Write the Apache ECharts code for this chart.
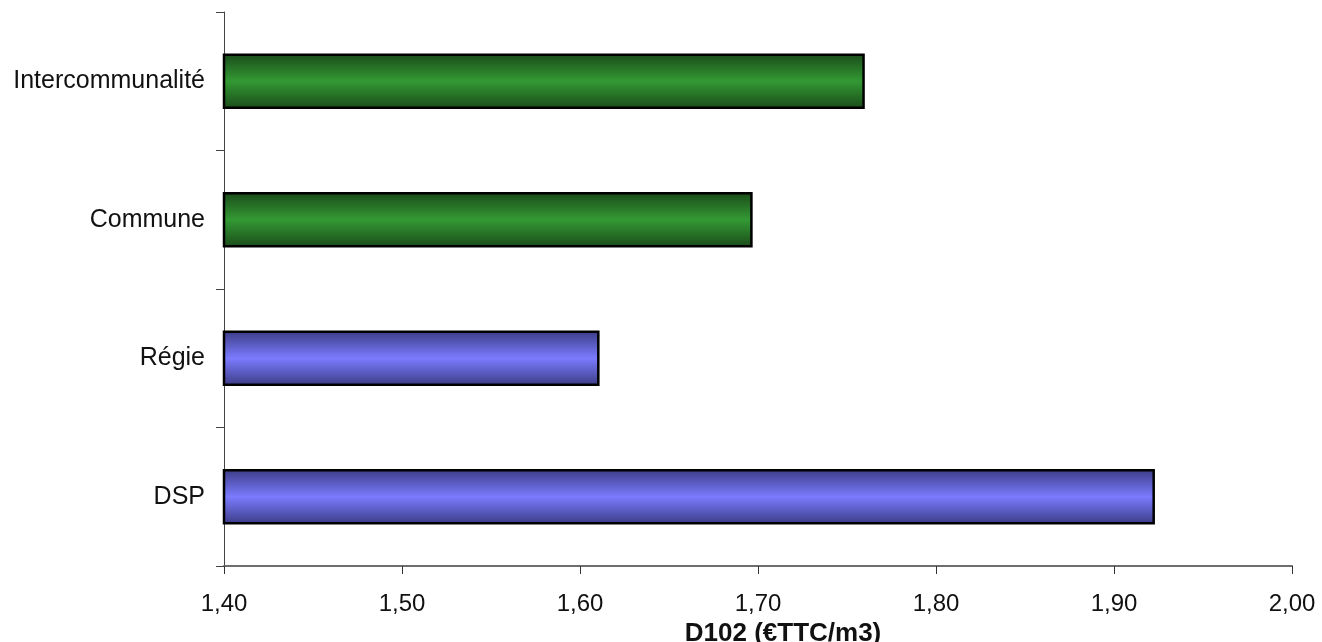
<!DOCTYPE html>
<html><head><meta charset="utf-8">
<script src="https://cdn.jsdelivr.net/npm/echarts@6/dist/echarts.min.js"></script>
<style>html,body{margin:0;padding:0;background:#fff;overflow:hidden}#c{width:1322px;height:642px}</style>
</head><body><div id="c"></div>
<script>
const categories = ['DSP', 'Régie', 'Commune', 'Intercommunalité'];
const values = [1.923, 1.611, 1.697, 1.760];
const groups = ['mode', 'mode', 'type', 'type'];
const xTicks = [1.40, 1.50, 1.60, 1.70, 1.80, 1.90, 2.00];

function grad(dark, mid) {
  return new echarts.graphic.LinearGradient(0, 0, 0, 1, [
    {offset: 0, color: dark}, {offset: 0.5, color: mid}, {offset: 1, color: dark}
  ]);
}
const palette = {
  mode: grad('#3b3b85', '#7b7bff'),
  type: grad('#1a4a1a', '#339933')
};

const chart = echarts.init(document.getElementById('c'));
chart.setOption({
  animation: false,
  grid: {left: 224, right: 30, top: 12, bottom: 76, containLabel: false, outerBoundsMode: 'none'},
  xAxis: {
    type: 'value', min: 1.40, max: 2.00, interval: 0.10,
    axisLine: {show: true, lineStyle: {color: '#6e6e6e', width: 2}},
    axisTick: {show: true, length: 8, lineStyle: {color: '#333', width: 1}},
    splitLine: {show: false},
    axisLabel: {margin: 26, fontFamily: 'Liberation Sans, Arial', fontSize: 24, color: '#111',
      formatter: v => v.toFixed(2).replace('.', ',')},
    name: 'D102 (€TTC/m3)', nameLocation: 'middle', nameGap: 48,
    nameTextStyle: {fontFamily: 'Liberation Sans, Arial', fontSize: 26, fontWeight: 'bold', color: '#111', padding: [0, 0, 0, 50]}
  },
  yAxis: {
    type: 'category', data: categories,
    axisLine: {show: true, lineStyle: {color: '#444', width: 1}},
    axisTick: {show: true, length: 8, lineStyle: {color: '#444'}},
    axisLabel: {margin: 19, fontFamily: 'Liberation Sans, Arial', fontSize: 25, color: '#111'}
  },
  series: [{
    type: 'bar', barWidth: '40%',
    data: values.map((v, i) => ({value: v, itemStyle: {color: palette[groups[i]], borderColor: '#000', borderWidth: 2.5}}))
  }]
});
</script></body></html>
